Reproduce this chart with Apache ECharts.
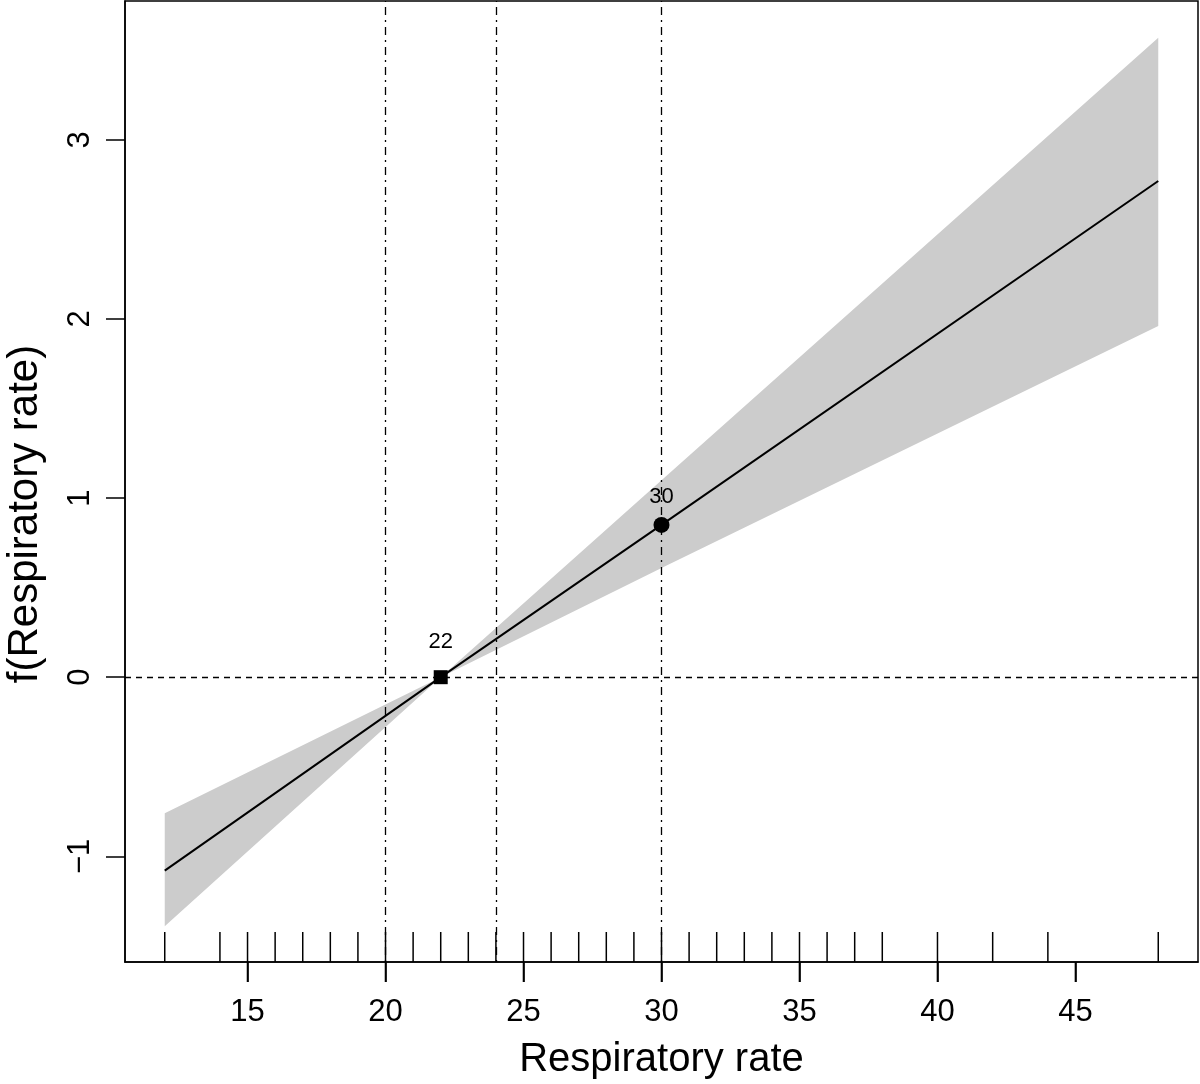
<!DOCTYPE html>
<html>
<head>
<meta charset="utf-8">
<script src="https://cdn.jsdelivr.net/npm/echarts@6/dist/echarts.min.js"></script>
<style>
html,body{margin:0;padding:0;background:#fff;}
#chart{width:1200px;height:1084px;background:#fff;}
</style>
</head>
<body>
<div id="chart"></div>
<script>
// ---- data ----
var xs     = [12, 22, 30, 48];
var fit    = [-1.08, 0, 0.85, 2.77];
var lower  = [-1.39, 0, 0.61, 1.96];
var upper  = [-0.76, 0, 1.10, 3.57];
var rugX   = [12,14,15,16,17,18,19,20,21,22,23,24,25,26,27,28,29,30,31,32,33,34,35,36,37,38,40,42,44,48];
var xTicks = [15, 20, 25, 30, 35, 40, 45];
var yTicks = [-1, 0, 1, 2, 3];
var vLines = [20, 24, 30];
var refPoints = [{x: 22, y: 0, label: '22', symbol: 'rect'}, {x: 30, y: 0.85, label: '30', symbol: 'circle'}];
var xRange = [10.56, 49.44];
var yRange = [-1.59, 3.775];

var FONT = 'Liberation Sans, Arial, Helvetica, sans-serif';
var chart = echarts.init(document.getElementById('chart'));

var fitData = xs.map(function (x, i) { return [x, fit[i]]; });
var bandData = xs.map(function (x, i) { return [x, lower[i], upper[i]]; });

var option = {
  animation: false,
  grid: {left: 125, right: 2, top: 1, bottom: 122, show: true, borderColor: '#000', borderWidth: 1.5},
  xAxis: {
    type: 'value', min: xRange[0], max: xRange[1],
    axisLine: {show: true, onZero: false, lineStyle: {color: '#000', width: 1.5}},
    splitLine: {show: false},
    axisTick: {show: true, customValues: xTicks, length: 20, lineStyle: {color: '#000', width: 1.6}},
    axisLabel: {customValues: xTicks, margin: 35, fontSize: 31, color: '#000', fontFamily: FONT}
  },
  yAxis: {
    type: 'value', min: yRange[0], max: yRange[1],
    axisLine: {show: true, onZero: false, lineStyle: {color: '#000', width: 1.5}},
    splitLine: {show: false},
    axisTick: {show: true, customValues: yTicks, length: 19, lineStyle: {color: '#000', width: 1.5}},
    axisLabel: {customValues: yTicks, rotate: 90, margin: 29, fontSize: 31, color: '#000', fontFamily: FONT,
      formatter: function (v) { return v < 0 ? '\u2212' + Math.abs(v) : String(v); }}
  },
  series: [
    {
      type: 'custom', name: 'band', z: 1, silent: true,
      data: bandData,
      encode: {x: 0, y: [1, 2]},
      renderItem: function (params, api) {
        if (params.dataIndex !== 0) return null;
        var top = [], bot = [];
        for (var i = 0; i < bandData.length; i++) {
          top.push(api.coord([bandData[i][0], bandData[i][2]]));
          bot.unshift(api.coord([bandData[i][0], bandData[i][1]]));
        }
        return {type: 'polygon', shape: {points: top.concat(bot)}, style: {fill: '#cccccc', stroke: null}};
      }
    },
    {
      type: 'line', name: 'refs', data: [], silent: true, z: 3,
      markLine: {
        silent: true, symbol: 'none', label: {show: false},
        data: vLines.map(function (v) { return {xAxis: v, lineStyle: {type: [2, 5, 8, 5], color: '#000', width: 1.3}}; })
          .concat([{yAxis: 0, lineStyle: {type: [6, 5], color: '#000', width: 1.3}}])
      }
    },
    {
      type: 'line', name: 'fit', data: fitData, symbol: 'none', z: 4,
      lineStyle: {color: '#000', width: 2}
    },
    {
      type: 'scatter', name: 'points', z: 5,
      data: refPoints.map(function (p) {
        return {
          value: [p.x, p.y], symbol: p.symbol, symbolSize: p.symbol === 'rect' ? 14 : 16,
          label: {show: true, formatter: p.label, position: 'top', distance: p.symbol === 'rect' ? 17 : 9,
            fontSize: 22, color: '#000', fontFamily: FONT}
        };
      }),
      itemStyle: {color: '#000', opacity: 1}
    },
    {
      type: 'custom', name: 'rug', z: 6, silent: true, clip: false,
      data: rugX.map(function (v) { return [v]; }),
      encode: {x: 0},
      renderItem: function (params, api) {
        var p = api.coord([api.value(0), yRange[0]]);
        return {type: 'line', shape: {x1: p[0], y1: p[1], x2: p[0], y2: p[1] - 30}, style: {stroke: '#000', lineWidth: 1.5}};
      }
    }
  ]
};
chart.setOption(option);

// titles and outward x ticks positioned through the chart's own scales
var tickLines = xTicks.map(function (v) {
  var p = chart.convertToPixel({gridIndex: 0}, [v, yRange[0]]);
  return {type: 'line', silent: true, z: 100, shape: {x1: p[0], y1: p[1], x2: p[0], y2: p[1] + 20}, style: {stroke: '#000', lineWidth: 1.6}};
});
var c0 = chart.convertToPixel({gridIndex: 0}, [(xRange[0] + xRange[1]) / 2, yRange[0]]);
chart.setOption({
  graphic: tickLines.concat([
    {type: 'text', silent: true, style: {text: 'Respiratory rate', font: '40px ' + FONT, fill: '#000', textAlign: 'center', textVerticalAlign: 'middle'}, x: c0[0], y: 1060},
    {type: 'text', silent: true, style: {text: 'f(Respiratory rate)', font: '42px ' + FONT, fill: '#000', textAlign: 'center', textVerticalAlign: 'middle'}, x: 25, y: 514, rotation: Math.PI / 2}
  ])
});
</script>
</body>
</html>
